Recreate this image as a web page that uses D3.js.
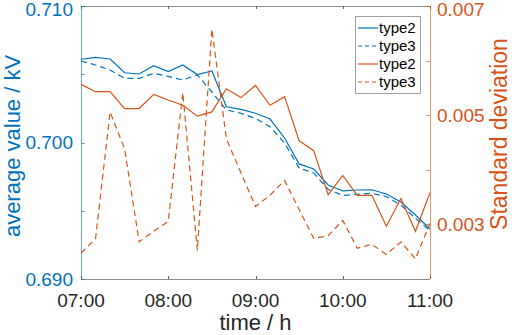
<!DOCTYPE html>
<html>
<head>
<meta charset="utf-8">
<style>
  body { margin: 0; background: #fff; }
  text { font-family: "Liberation Sans", Arial, sans-serif; }
</style>
<script src="https://cdn.jsdelivr.net/npm/d3@7"></script>
</head>
<body>
<svg id="chart" width="512" height="335"></svg>
<script>
// time in minutes after midnight, every 10 min from 07:00 to 11:00
var times = [420, 430, 440, 450, 460, 470, 480, 490, 500, 510, 520, 530, 540,
             550, 560, 570, 580, 590, 600, 610, 620, 630, 640, 650, 660];

var avgType2 = [0.70610, 0.70624, 0.70612, 0.70511, 0.70502, 0.70563, 0.70519, 0.70568, 0.70498,
                0.70524, 0.70262, 0.70243, 0.70214, 0.70172, 0.70033, 0.69843, 0.69806, 0.69689,
                0.69645, 0.69652, 0.69654, 0.69623, 0.69564, 0.69469, 0.69366];
var avgType3 = [0.70597, 0.70568, 0.70531, 0.70470, 0.70470, 0.70507, 0.70484, 0.70458, 0.70495,
                0.70370, 0.70238, 0.70214, 0.70177, 0.70116, 0.69996, 0.69813, 0.69777, 0.69657,
                0.69612, 0.69621, 0.69628, 0.69603, 0.69542, 0.69445, 0.69354];
var stdType2 = [0.005564, 0.005431, 0.005431, 0.005122, 0.005122, 0.005382, 0.005278, 0.005182, 0.004982,
                0.005060, 0.005485, 0.005322, 0.005545, 0.005182, 0.005340, 0.004533, 0.004351, 0.003545,
                0.003896, 0.003533, 0.003533, 0.002967, 0.003473, 0.002873, 0.003582];
var stdType3 = [0.002473, 0.002736, 0.005060, 0.004382, 0.002682, 0.002873, 0.003055, 0.005413, 0.002522,
                0.006576, 0.004564, 0.003945, 0.003327, 0.003536, 0.003805, 0.003273, 0.002745, 0.002791,
                0.003073, 0.002564, 0.002636, 0.002451, 0.002678, 0.002369, 0.003018];

var xTicks = [420, 480, 540, 600, 660];
var leftTicks = [0.690, 0.695, 0.700, 0.705, 0.710];
var leftLabels = [0.690, 0.700, 0.710];
var rightTicks = [0.003, 0.004, 0.005, 0.006, 0.007];
var rightLabels = [0.003, 0.005, 0.007];
var legendNames = ["type2", "type3", "type2", "type3"];

var blue = "#0072BD", orange = "#D95319";

var svg = d3.select("#chart"),
    margin = {top: 6, right: 82, bottom: 56, left: 81},
    width = +svg.attr("width") - margin.left - margin.right,
    height = +svg.attr("height") - margin.top - margin.bottom,
    g = svg.append("g").attr("transform", "translate(" + margin.left + "," + margin.top + ")");

var x = d3.scaleLinear().domain([420, 660]).range([0, width]);
var yL = d3.scaleLinear().domain([0.690, 0.710]).range([height, 0]);
var yR = d3.scaleLinear().domain([0.002, 0.007]).range([height, 0]);

function fmtTime(m) {
  return d3.format("02d")(Math.floor(m / 60)) + ":" + d3.format("02d")(m % 60);
}

// top label sits right at the edge, nudge it down a bit so it isn't clipped
function labelDy(y) { return y < 8 ? "0.5em" : "0.36em"; }

// box lines
g.append("line").attr("x1", 0).attr("x2", width).attr("y1", 0.5).attr("y2", 0.5)
  .attr("stroke", "#8c8c8c").attr("stroke-width", 1);
g.append("line").attr("x1", 0).attr("x2", width).attr("y1", height + 0.5).attr("y2", height + 0.5)
  .attr("stroke", "#8c8c8c").attr("stroke-width", 1);

// x ticks (inward, bottom and top)
g.selectAll(".xt").data(xTicks).enter().append("path")
  .attr("d", function(d) { var px = Math.round(x(d)) + 0.5; return "M" + px + "," + height + "v-3M" + px + ",0v3"; })
  .attr("stroke", "#666").attr("stroke-width", 1);
g.selectAll(".xl").data(xTicks).enter().append("text")
  .attr("x", function(d) { return x(d); })
  .attr("y", height + 28)
  .attr("text-anchor", "middle")
  .attr("font-size", 19)
  .attr("fill", "#262626")
  .text(fmtTime);

// left axis
g.append("line").attr("x1", 0.5).attr("x2", 0.5).attr("y1", 0).attr("y2", height)
  .attr("stroke", blue).attr("stroke-opacity", 0.6);
g.selectAll(".ylt").data(leftTicks).enter().append("line")
  .attr("x1", 0).attr("x2", 4)
  .attr("y1", function(d) { return Math.round(yL(d)) + 0.5; })
  .attr("y2", function(d) { return Math.round(yL(d)) + 0.5; })
  .attr("stroke", blue).attr("stroke-opacity", 0.6);
g.selectAll(".yll").data(leftLabels).enter().append("text")
  .attr("x", -8)
  .attr("y", function(d) { return yL(d); })
  .attr("dy", function(d) { return labelDy(yL(d)); })
  .attr("text-anchor", "end")
  .attr("font-size", 19)
  .attr("fill", blue)
  .text(d3.format(".3f"));

// right axis
g.append("line").attr("x1", width + 0.5).attr("x2", width + 0.5).attr("y1", 0).attr("y2", height)
  .attr("stroke", orange).attr("stroke-opacity", 0.6);
g.selectAll(".yrt").data(rightTicks).enter().append("line")
  .attr("x1", width - 4).attr("x2", width)
  .attr("y1", function(d) { return Math.round(yR(d)) + 0.5; })
  .attr("y2", function(d) { return Math.round(yR(d)) + 0.5; })
  .attr("stroke", orange).attr("stroke-opacity", 0.6);
g.selectAll(".yrl").data(rightLabels).enter().append("text")
  .attr("x", width + 7)
  .attr("y", function(d) { return yR(d); })
  .attr("dy", function(d) { return labelDy(yR(d)); })
  .attr("text-anchor", "start")
  .attr("font-size", 19)
  .attr("fill", orange)
  .text(d3.format(".3f"));

// axis titles
svg.append("text")
  .attr("transform", "translate(" + (margin.left + width / 2) + ",330)")
  .attr("text-anchor", "middle")
  .attr("font-size", 22)
  .attr("fill", "#262626")
  .text("time / h");
svg.append("text")
  .attr("transform", "translate(20,146) rotate(-90)")
  .attr("text-anchor", "middle")
  .attr("font-size", 22)
  .attr("fill", blue)
  .text("average value / kV");
svg.append("text")
  .attr("transform", "translate(507,134) rotate(-90)")
  .attr("text-anchor", "middle")
  .attr("font-size", 23)
  .attr("fill", orange)
  .text("Standard deviation");

// series
var series = [
  {values: avgType2, y: yL, color: blue, dash: null},
  {values: avgType3, y: yL, color: blue, dash: "6,4"},
  {values: stdType2, y: yR, color: orange, dash: null},
  {values: stdType3, y: yR, color: orange, dash: "6,4"}
];

series.forEach(function(s) {
  var line = d3.line()
    .x(function(d, i) { return x(times[i]); })
    .y(function(d) { return s.y(d); });
  g.append("path")
    .datum(s.values)
    .attr("fill", "none")
    .attr("stroke", s.color)
    .attr("stroke-width", 1.2)
    .attr("stroke-dasharray", s.dash)
    .attr("d", line);
});

// legend
var lg = svg.append("g").attr("transform", "translate(355,16)");
lg.append("rect").attr("x", 0.5).attr("y", 0.5).attr("width", 65).attr("height", 77)
  .attr("fill", "#fff").attr("stroke", "#a0a0a0");
var item = lg.selectAll(".li").data(legendNames).enter().append("g")
  .attr("transform", function(d, i) { return "translate(0," + (12 + i * 18) + ")"; });
item.append("line")
  .attr("x1", 3).attr("x2", 23).attr("y1", 0).attr("y2", 0)
  .attr("stroke", function(d, i) { return series[i].color; })
  .attr("stroke-width", 1.2)
  .attr("stroke-dasharray", function(d, i) { return series[i].dash ? "4,3" : null; });
item.append("text")
  .attr("x", 24).attr("y", 0).attr("dy", "0.35em")
  .attr("font-size", 15)
  .attr("fill", "#000")
  .text(function(d) { return d; });
</script>
</body>
</html>
